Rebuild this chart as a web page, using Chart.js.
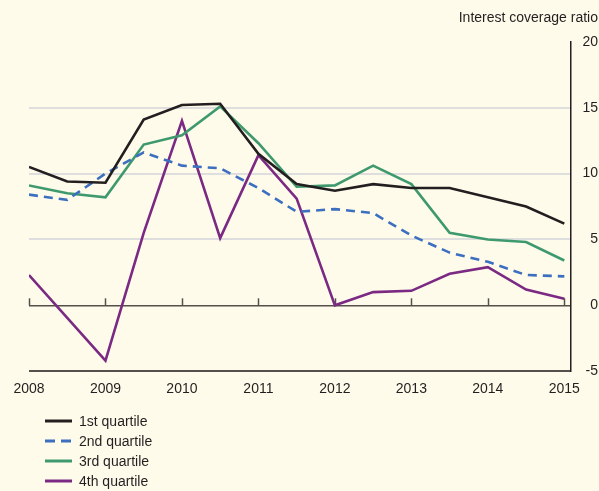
<!DOCTYPE html>
<html>
<head>
<meta charset="utf-8">
<script src="https://cdn.jsdelivr.net/npm/chart.js@4"></script>
<style>
  html, body { margin: 0; padding: 0; background: #fefbea; }
  #wrap { position: relative; width: 599px; height: 491px; }
  #legend { position: absolute; left: 45px; top: 411px; font: 14px "Liberation Sans", Arial, sans-serif; color: #231f20; }
  #legend div { height: 20px; display: flex; align-items: center; }
  #legend svg { margin-right: 7px; }
</style>
</head>
<body>
<div id="wrap">
  <canvas id="c" width="599" height="491"></canvas>
  <div id="legend"></div>
</div>
<script>
// half-yearly observations
var periods = [2008, 2008.5, 2009, 2009.5, 2010, 2010.5, 2011, 2011.5, 2012, 2012.5, 2013, 2013.5, 2014, 2014.5, 2015]
var years = [2008, 2009, 2010, 2011, 2012, 2013, 2014, 2015]

var q1 = [10.5, 9.4, 9.3, 14.1, 15.2, 15.3, 11.5, 9.2, 8.7, 9.2, 8.9, 8.9, 8.2, 7.5, 6.2]
var q2 = [8.4, 8.0, 10.0, 11.6, 10.6, 10.4, 8.9, 7.1, 7.3, 7.0, 5.3, 4.0, 3.3, 2.3, 2.2]
var q3 = [9.1, 8.5, 8.2, 12.2, 12.9, 15.1, 12.3, 9.0, 9.1, 10.6, 9.2, 5.5, 5.0, 4.8, 3.4]
var q4 = [2.3, null, -4.2, 5.5, 14.0, 5.1, 11.4, 8.1, 0.0, 1.0, 1.1, 2.4, 2.9, 1.2, 0.5]

var ink = "#231f20"
var font = "'Liberation Sans', Arial, sans-serif"

function pts(vals) {
  return vals.map(function(v, i) { return {x: periods[i], y: v} })
}

function series(label, vals, color, dash) {
  return {
    label: label,
    data: pts(vals),
    borderColor: color,
    backgroundColor: color,
    borderWidth: 2.6,
    borderDash: dash || [],
    pointRadius: 0,
    tension: 0,
    spanGaps: true,
    fill: false,
  }
}

// little year ticks standing on the zero line
var zeroTicks = {
  id: "zeroTicks",
  beforeDatasetsDraw: function(chart) {
    var ctx = chart.ctx
    var x = chart.scales.x, y = chart.scales.y
    var y0 = y.getPixelForValue(0)
    ctx.save()
    ctx.strokeStyle = "#55504c"
    ctx.lineWidth = 1.5
    years.forEach(function(yr) {
      var px = Math.round(x.getPixelForValue(yr)) + 0.5
      ctx.beginPath()
      ctx.moveTo(px, y0 - 7)
      ctx.lineTo(px, y0)
      ctx.stroke()
    })
    ctx.restore()
  }
}

var chart = new Chart(document.getElementById("c"), {
  type: "line",
  data: {
    datasets: [
      series("1st quartile", q1, ink),
      series("2nd quartile", q2, "#3d6fc0", [9, 6]),
      series("3rd quartile", q3, "#3e9a6e"),
      series("4th quartile", q4, "#7b2a83"),
    ],
  },
  options: {
    responsive: false,
    animation: false,
    layout: { padding: { left: 29, right: 1, bottom: 91 } },
    plugins: {
      legend: { display: false },
      tooltip: { enabled: false },
      title: {
        display: true,
        text: "Interest coverage ratio",
        align: "end",
        color: ink,
        font: { family: font, size: 14, weight: "normal" },
        padding: { top: 10, bottom: 15 },
      },
    },
    scales: {
      x: {
        type: "linear",
        min: 2008,
        max: 2015.08,
        afterBuildTicks: function(scale) {
          scale.ticks = years.map(function(v) { return {value: v} })
        },
        grid: { display: false },
        border: { display: false },
        ticks: {
          color: ink,
          padding: 2,
          maxRotation: 0,
          font: { family: font, size: 14 },
          callback: function(v) { return String(v) },
        },
      },
      y: {
        position: "right",
        min: -5,
        max: 20,
        grid: {
          drawTicks: false,
          lineWidth: function(c) { return c.tick && c.tick.value === 0 ? 1.5 : 2 },
          color: function(c) {
            var v = c.tick && c.tick.value
            if (v === 0 || v === -5) return "#55504c"
            if (v === 20) return "rgba(0,0,0,0)"
            return "#dedede"
          },
        },
        border: { display: true, color: ink, width: 1.5 },
        ticks: {
          stepSize: 5,
          color: ink,
          padding: 6,
          crossAlign: "far",
          font: { family: font, size: 14 },
        },
      },
    },
  },
  plugins: [zeroTicks],
})

// vertical legend underneath, built from the chart's datasets
var legend = document.getElementById("legend")
chart.data.datasets.forEach(function(ds) {
  var row = document.createElement("div")
  var dash = ds.borderDash.length ? ' stroke-dasharray="10 6"' : ""
  row.innerHTML = '<svg width="27" height="4"><line x1="0" y1="2" x2="27" y2="2" stroke="' +
    ds.borderColor + '" stroke-width="3"' + dash + '/></svg><span>' + ds.label + '</span>'
  legend.appendChild(row)
})
</script>
</body>
</html>
